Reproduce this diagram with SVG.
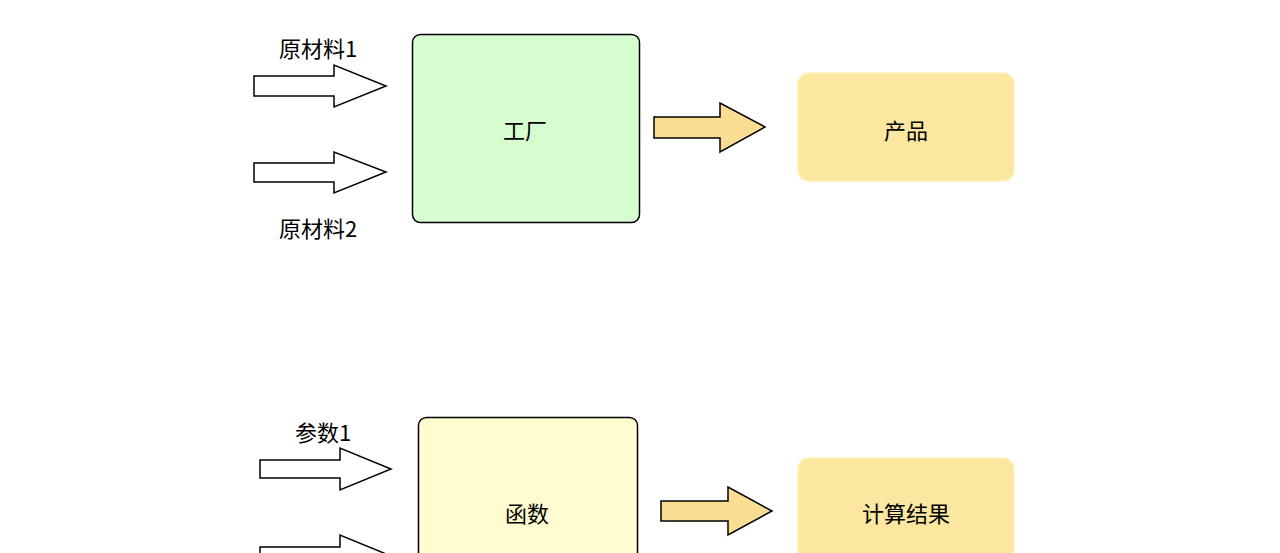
<svg xmlns="http://www.w3.org/2000/svg" width="1280" height="553" viewBox="0 0 1280 553">
<style>
text{font-family:"Noto Sans CJK SC","Noto Sans",sans-serif;font-size:22px;fill:#000;text-anchor:middle;dominant-baseline:central}
.wa{fill:#fff;stroke:#000;stroke-width:1.5}
.ya{fill:#f8dd92;stroke:#000;stroke-width:1.5}
</style>
<rect width="1280" height="553" fill="#fff"/>
<g id="connectors">
<polygon class="wa" points="254,76 334,76 334,65 386,86 334,107 334,96 254,96"/>
<polygon class="wa" points="254,163 334,163 334,152 386,172 334,193 334,182 254,182"/>
<polygon class="ya" points="654,117 720,117 720,103 765,127 720,152 720,138 654,138"/>
<polygon class="wa" points="260,460 340,460 340,448 391,469 340,490 340,478 260,478"/>
<polygon class="wa" points="260,547 340,547 340,535 391,556 340,577 340,565 260,565"/>
<polygon class="ya" points="661,501 728,501 728,487 772,511 728,535 728,521 661,521"/>
</g>
<g id="labels">
<text x="318" y="47">原材料1</text>
<text x="318" y="227">原材料2</text>
<text x="323" y="431">参数1</text>
</g>
<g id="factory"><rect x="412.5" y="34.5" width="227" height="188" rx="8" fill="#d5fdd0" stroke="#000" stroke-width="1.5"/><text x="525" y="129">工厂</text></g>
<g id="product"><rect x="798" y="73" width="216" height="108" rx="11" fill="#fbe7a0" stroke="#fff2b8" stroke-width="1.5"/><text x="906" y="129">产品</text></g>
<g id="function"><rect x="418.5" y="417.5" width="219" height="180" rx="8" fill="#fffdd0" stroke="#000" stroke-width="1.5"/><text x="527" y="512">函数</text></g>
<g id="result"><rect x="798" y="458" width="216" height="120" rx="11" fill="#fbe7a0" stroke="#fff2b8" stroke-width="1.5"/><text x="906" y="512">计算结果</text></g>
</svg>
